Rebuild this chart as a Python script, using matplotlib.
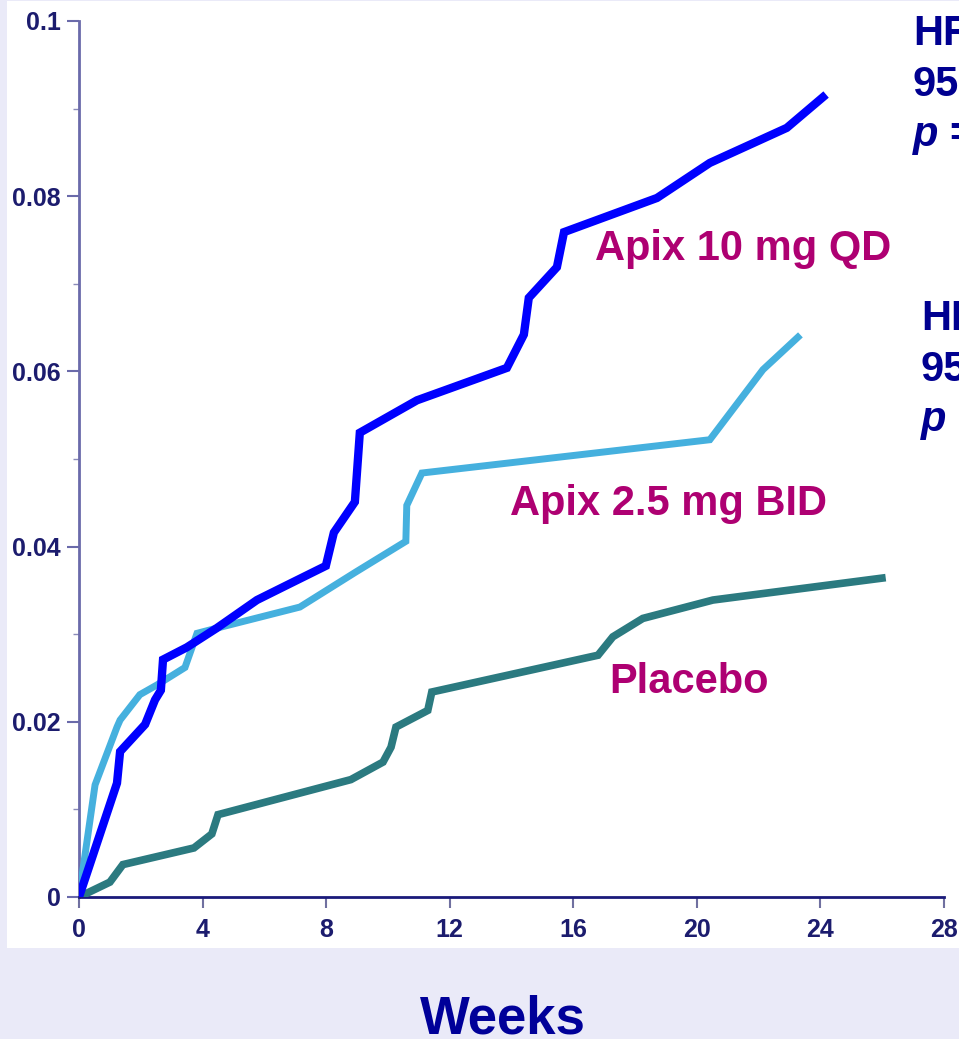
import matplotlib.pyplot as plt
import matplotlib.patches as mpatches

plt.rcParams["font.family"] = ["Liberation Sans", "DejaVu Sans"]
plt.rcParams["font.weight"] = "bold"

# cumulative event rate (weeks, fraction)
apix10_weeks = [0, 1.23, 1.33, 2.14, 2.46, 2.65, 2.72, 3.49, 4.46, 5.76, 6.73, 7.99,
                8.25, 8.93, 9.09, 10.94, 13.85, 14.40, 14.56, 15.47, 15.70, 18.71,
                20.42, 22.91, 24.08]
apix10_rate = [0, 0.0130, 0.0166, 0.0197, 0.0225, 0.0236, 0.0271, 0.0285, 0.0307,
               0.0339, 0.0356, 0.0378, 0.0416, 0.0451, 0.0530, 0.0567, 0.0604,
               0.0642, 0.0684, 0.0719, 0.0759, 0.0798, 0.0838, 0.0878, 0.0913]

apix25_weeks = [0, 0.52, 1.23, 1.33, 1.97, 2.52, 3.43, 3.82, 4.47, 7.15, 8.96,
                10.58, 10.61, 11.10, 20.42, 22.14, 23.27]
apix25_rate = [0, 0.0128, 0.0194, 0.0202, 0.0231, 0.0242, 0.0262, 0.0301, 0.0307,
               0.0331, 0.0371, 0.0406, 0.0447, 0.0484, 0.0522, 0.0602, 0.0639]

placebo_weeks = [0, 1.00, 1.42, 3.72, 4.30, 4.50, 8.80, 9.84, 10.10, 10.26, 11.29,
                 11.42, 16.80, 17.28, 18.25, 20.52, 25.99]
placebo_rate = [0, 0.0017, 0.0037, 0.0056, 0.0072, 0.0094, 0.0134, 0.0154, 0.0171,
                0.0194, 0.0213, 0.0234, 0.0276, 0.0297, 0.0318, 0.0339, 0.0364]

x_ticks = [0, 4, 8, 12, 16, 20, 24, 28]
y_ticks = [0, 0.02, 0.04, 0.06, 0.08, 0.1]
y_tick_labels = ["0", "0.02", "0.04", "0.06", "0.08", "0.1"]

NAVY = "#1c1c6e"
MAGENTA = "#ae0072"
HR_BLUE = "#000090"

fig = plt.figure(figsize=(9.59, 10.39), dpi=100)
fig.patch.set_facecolor("#eaeaf8")

# white panel behind the plot
fig.patches.append(mpatches.Rectangle((7 / 959, 91 / 1039), 1, 947 / 1039,
                                      transform=fig.transFigure,
                                      facecolor="white", edgecolor="none", zorder=-1))

ax = fig.add_axes([79 / 959, 142 / 1039, 865 / 959, 876 / 1039])
ax.set_facecolor("none")
ax.set_zorder(1)

ax.plot(placebo_weeks, placebo_rate, color="#2b7a80", lw=5.5, solid_joinstyle="miter", zorder=3)
ax.plot(apix25_weeks, apix25_rate, color="#45b0de", lw=5, solid_joinstyle="miter", zorder=4)
ax.plot(apix10_weeks, apix10_rate, color="#0000ff", lw=6, solid_joinstyle="miter", zorder=5)

ax.set_xlim(0, 28)
ax.set_ylim(0, 0.1)
ax.set_xticks(x_ticks)
ax.set_yticks(y_ticks)
ax.set_yticklabels(y_tick_labels)
ax.set_yticks([0.01, 0.03, 0.05, 0.07, 0.09], minor=True)

for side in ["top", "right"]:
    ax.spines[side].set_visible(False)
ax.spines["left"].set_color("#6a6aaa")
ax.spines["left"].set_linewidth(2)
ax.spines["bottom"].set_color("#1a1a7a")
ax.spines["bottom"].set_linewidth(2)

ax.tick_params(axis="y", which="major", length=9, width=1.5, color="#6a6aaa",
               labelsize=18, labelcolor=NAVY, pad=4)
ax.tick_params(axis="y", which="minor", length=4.5, width=1, color="#8a8ab8")
ax.tick_params(axis="x", which="major", length=8, width=1.5, color="#7070a0",
               labelsize=18, labelcolor=NAVY, pad=7)
for lbl in ax.get_xticklabels() + ax.get_yticklabels():
    lbl.set_fontweight("bold")
    lbl.set_clip_on(False)

# series labels
ax.text(16.7, 0.0727, "Apix 10 mg QD", color=MAGENTA, fontsize=30, fontweight="bold")
ax.text(13.95, 0.0436, "Apix 2.5 mg BID", color=MAGENTA, fontsize=30, fontweight="bold")
ax.text(17.18, 0.0233, "Placebo", color=MAGENTA, fontsize=30, fontweight="bold")

# hazard ratio notes, cut off by the right edge of the slide
def hr_block(x_px, base_px):
    fx = x_px / 959
    fig.text(fx, 1 - base_px / 1039, "HR", color=HR_BLUE, fontsize=30, fontweight="bold")
    fig.text(fx, 1 - (base_px + 51) / 1039, "95", color=HR_BLUE, fontsize=30, fontweight="bold")
    fig.text(fx, 1 - (base_px + 101) / 1039, "p", color=HR_BLUE, fontsize=30,
             fontweight="bold", fontstyle="italic")
    fig.text(fx + 36 / 959, 1 - (base_px + 101) / 1039, "=", color=HR_BLUE, fontsize=30,
             fontweight="bold")

hr_block(913, 45)
hr_block(921, 330)

fig.text(503 / 959, 1 - 1033 / 1039, "Weeks", color="#000099", fontsize=38,
         fontweight="bold", ha="center", va="baseline")

fig.savefig("out.png", dpi=100, facecolor=fig.get_facecolor())
